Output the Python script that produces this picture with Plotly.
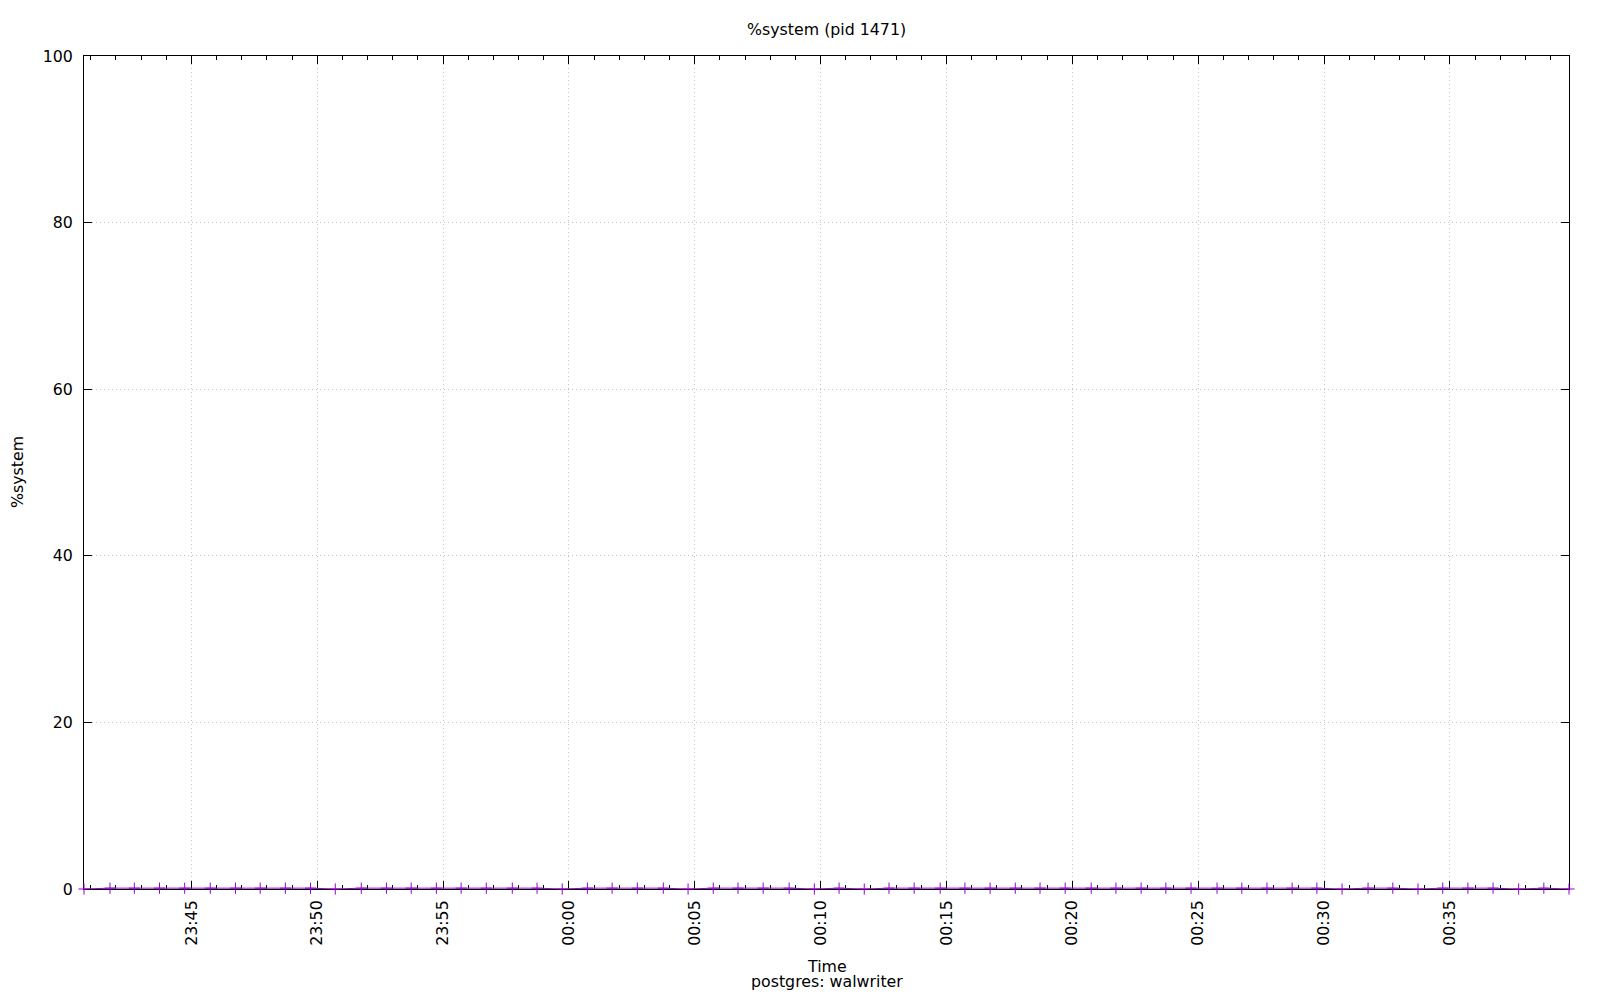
import plotly.graph_objects as go

# Sample timestamps (sar output, ~1 minute interval)
times = [
    "2024-01-15 23:40:44", "2024-01-15 23:41:46", "2024-01-15 23:42:44", "2024-01-15 23:43:44",
    "2024-01-15 23:44:44", "2024-01-15 23:45:45", "2024-01-15 23:46:45", "2024-01-15 23:47:44",
    "2024-01-15 23:48:44", "2024-01-15 23:49:44", "2024-01-15 23:50:43", "2024-01-15 23:51:45",
    "2024-01-15 23:52:45", "2024-01-15 23:53:44", "2024-01-15 23:54:44", "2024-01-15 23:55:43",
    "2024-01-15 23:56:43", "2024-01-15 23:57:45", "2024-01-15 23:58:44", "2024-01-15 23:59:44",
    "2024-01-16 00:00:44", "2024-01-16 00:01:43", "2024-01-16 00:02:43", "2024-01-16 00:03:45",
    "2024-01-16 00:04:44", "2024-01-16 00:05:44", "2024-01-16 00:06:43", "2024-01-16 00:07:43",
    "2024-01-16 00:08:45", "2024-01-16 00:09:45", "2024-01-16 00:10:44", "2024-01-16 00:11:44",
    "2024-01-16 00:12:43", "2024-01-16 00:13:43", "2024-01-16 00:14:45", "2024-01-16 00:15:44",
    "2024-01-16 00:16:44", "2024-01-16 00:17:44", "2024-01-16 00:18:43", "2024-01-16 00:19:43",
    "2024-01-16 00:20:45", "2024-01-16 00:21:44", "2024-01-16 00:22:44", "2024-01-16 00:23:43",
    "2024-01-16 00:24:43", "2024-01-16 00:25:45", "2024-01-16 00:26:44", "2024-01-16 00:27:44",
    "2024-01-16 00:28:44", "2024-01-16 00:29:43", "2024-01-16 00:30:43", "2024-01-16 00:31:45",
    "2024-01-16 00:32:44", "2024-01-16 00:33:44", "2024-01-16 00:34:43", "2024-01-16 00:35:43",
    "2024-01-16 00:36:43", "2024-01-16 00:37:44", "2024-01-16 00:38:44", "2024-01-16 00:39:44",
]

# %system values for pid 1471 (postgres: walwriter)
system_pct = [
    0.00, 0.10, 0.10, 0.10, 0.10, 0.10, 0.10, 0.10, 0.10, 0.10,
    0.00, 0.10, 0.10, 0.10, 0.10, 0.10, 0.10, 0.10, 0.10, 0.00,
    0.10, 0.10, 0.10, 0.10, 0.00, 0.10, 0.10, 0.10, 0.10, 0.00,
    0.10, 0.00, 0.10, 0.10, 0.10, 0.10, 0.10, 0.10, 0.10, 0.10,
    0.10, 0.10, 0.10, 0.10, 0.10, 0.10, 0.10, 0.10, 0.10, 0.10,
    0.00, 0.10, 0.10, 0.00, 0.10, 0.10, 0.10, 0.00, 0.10, 0.00,
]

y_ticks = [0, 20, 40, 60, 80, 100]

title_text = "%system (pid 1471)"
y_title = "%system"
x_title = "Time"
subtitle = "postgres: walwriter"

FONT = "DejaVu Sans"
FS = 15.8
PURPLE = "#9400D3"

# The page body has an 8px margin; lay out in page pixels and shift.
OFF = 8
FIG_W, FIG_H = 1584, 984
PLOT_L, PLOT_R, PLOT_T, PLOT_B = 84, 1569, 56, 889   # page pixels
ml = PLOT_L - OFF
mt = PLOT_T - OFF
mr = FIG_W - (PLOT_R - OFF)
mb = FIG_H - (PLOT_B - OFF)
plot_w = FIG_W - ml - mr
plot_h = FIG_H - mt - mb


def px_x(x):
    return (x - OFF - ml) / plot_w


def px_y(y):
    return 1 - (y - OFF - mt) / plot_h


fig = go.Figure()
fig.add_trace(go.Scatter(
    x=times, y=system_pct, mode="lines+markers",
    line=dict(color=PURPLE, width=1),
    marker=dict(symbol="cross-thin", size=8, color=PURPLE,
                line=dict(color=PURPLE, width=1)),
    cliponaxis=False, showlegend=False,
))

grid = dict(showgrid=True, gridcolor="#c4c4c4", griddash="1px,3px", gridwidth=1)

fig.update_layout(
    width=FIG_W, height=FIG_H,
    margin=dict(l=ml, r=mr, t=mt, b=mb),
    paper_bgcolor="white", plot_bgcolor="white",
    font=dict(family=FONT, size=FS, color="black"),
    xaxis=dict(
        type="date", range=[times[0], times[-1]],
        tick0="2024-01-15 23:45:00", dtick=300000, tickformat="%H:%M",
        tickangle=-90, ticks="inside", ticklen=8, tickcolor="black", tickwidth=1,
        ticklabelstandoff=4,
        showline=True, linecolor="black", linewidth=1, mirror="allticks",
        zeroline=False, layer="below traces",
        minor=dict(ticks="inside", dtick=60000, tick0="2024-01-15 23:45:00",
                   ticklen=4, tickcolor="black", showgrid=False),
        **grid,
    ),
    yaxis=dict(
        range=[0, 100], tickvals=y_ticks, ticks="inside", ticklen=8,
        tickcolor="black", tickwidth=1, ticklabelstandoff=7,
        showline=True, linecolor="black", linewidth=1, mirror="allticks",
        zeroline=False, layer="below traces",
        **grid,
    ),
    annotations=[
        dict(text=title_text, x=0.5, y=px_y(29.5)),
        dict(text=y_title, x=px_x(17), y=px_y(472), textangle=-90),
        dict(text=x_title, x=0.5, y=px_y(966.5)),
        dict(text=subtitle, x=0.5, y=px_y(981.5)),
    ],
)
fig.update_annotations(xref="paper", yref="paper", showarrow=False,
                       xanchor="center", yanchor="middle", font=dict(size=FS))

fig.write_html("out.html")
